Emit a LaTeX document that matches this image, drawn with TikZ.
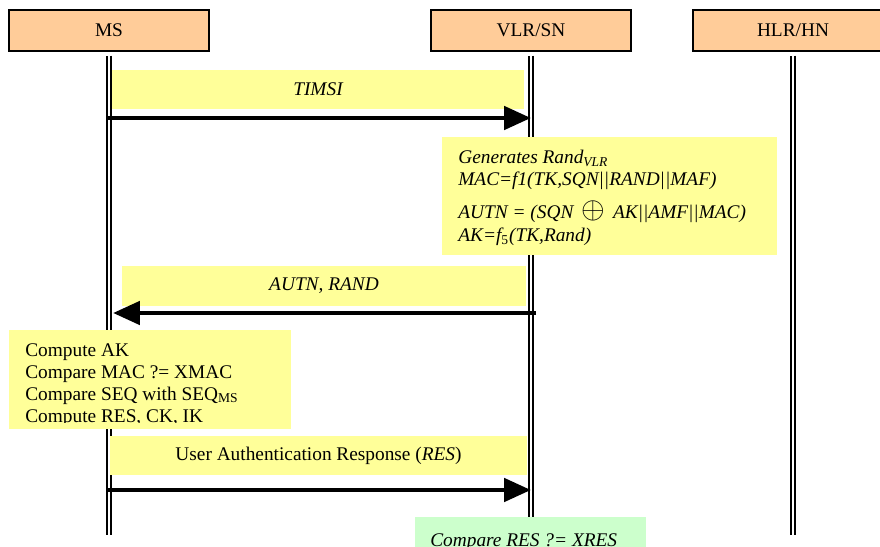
\documentclass[tikz,border=0pt]{standalone}
\usepackage{fontspec}
\setmainfont{Liberation Serif}
\usetikzlibrary{arrows.meta}
\definecolor{headfill}{HTML}{FFCC99}
\definecolor{notefill}{HTML}{FFFF99}
\definecolor{checkfill}{HTML}{CCFFCC}
\tikzset{
    entity/.style = {
        rectangle, draw, fill=headfill,
        line width=0.8pt,
        minimum width=4cm,
        minimum height=0.82cm,
        font=\fontsize{11}{13}\selectfont
    },
    lifeline/.style = {
        double, double distance=1.6pt,
        line width=0.9pt,
        shorten <=0.08cm
    },
    msgbox/.style = {
        rectangle, fill=notefill,
        inner sep=0pt,
        font=\fontsize{11}{12.5}\selectfont
    },
    notebox/.style = {
        rectangle, fill=notefill,
        inner sep=0pt
    },
    notetext/.style = {
        align=left, inner sep=0pt,
        font=\fontsize{11}{12.5}\selectfont
    },
    arrow/.style = {
        -{Triangle[length=0.54cm, width=0.46cm]},
        line width=2.8pt
    }
}

\begin{document}
\begin{tikzpicture}[x=0.02cm, y=-0.02cm]

\clip (0,0) rectangle (880,547);

\node (ms) [entity] at (109,30.5) {MS};
\node (vlr) [entity] at (531,30.5) {VLR/SN};
\node (hlr) [entity] at (793,30.5) {HLR/HN};

\coordinate (msend) at (109,535);
\coordinate (vlrend) at (531,535);
\coordinate (hlrend) at (793,535);
\draw [lifeline] (ms.south) -- (msend);
\draw [lifeline] (vlr.south) -- (vlrend);
\draw [lifeline] (hlr.south) -- (hlrend);

% messages between MS and VLR
\node (timsi) [msgbox, minimum width=8.24cm, minimum height=0.78cm] at (318,89.5) {\itshape TIMSI};
\coordinate (timsiA) at (108,118);
\coordinate (timsiB) at (531,118);
\draw [arrow] (timsiA) -- (timsiB);

\node (gen) [notebox, anchor=north west, minimum width=6.7cm, minimum height=2.36cm] at (442,137) {};
\node (gentext) [notetext, anchor=north west, font=\fontsize{11}{12.5}\selectfont\itshape] at (458,150) {%
Generates Rand\textsubscript{VLR}\\
MAC=f1(TK,SQN||RAND||MAF)\\[6pt]
AUTN = (SQN\, {\upshape\fontsize{17}{17}\selectfont$\oplus$}\, AK||AMF||MAC)\\[1pt]
AK=f\textsubscript{\upshape 5}(TK,Rand)};

\node (autn) [msgbox, minimum width=8.08cm, minimum height=0.8cm] at (324,286) {\itshape AUTN, RAND};
\coordinate (autnA) at (536,313);
\coordinate (autnB) at (113,313);
\draw [arrow] (autnA) -- (autnB);

\node (check) [notebox, anchor=north west, minimum width=5.64cm, minimum height=1.98cm] at (9,330) {};
\begin{scope}
\clip (check.north west) rectangle ([yshift=0.15cm]check.south east);
\node (checktext) [notetext, anchor=north west] at (25,343) {%
Compute AK\\
Compare MAC ?= XMAC\\
Compare SEQ with SEQ\textsubscript{MS}\\
Compute RES, CK, IK};
\end{scope}

\node (res) [msgbox, minimum width=8.34cm, minimum height=0.78cm] at (318.5,455.5) {User Authentication Response (\textit{RES})};
\coordinate (resA) at (108,490);
\coordinate (resB) at (531,490);
\draw [arrow] (resA) -- (resB);

\node (xres) [rectangle, fill=checkfill, anchor=north west, minimum width=4.62cm, minimum height=1cm] at (415,517) {};
\node (xrestext) [notetext, anchor=north west, font=\fontsize{11}{12.5}\selectfont\itshape] at (430,533) {Compare RES ?= XRES};

\end{tikzpicture}
\end{document}
